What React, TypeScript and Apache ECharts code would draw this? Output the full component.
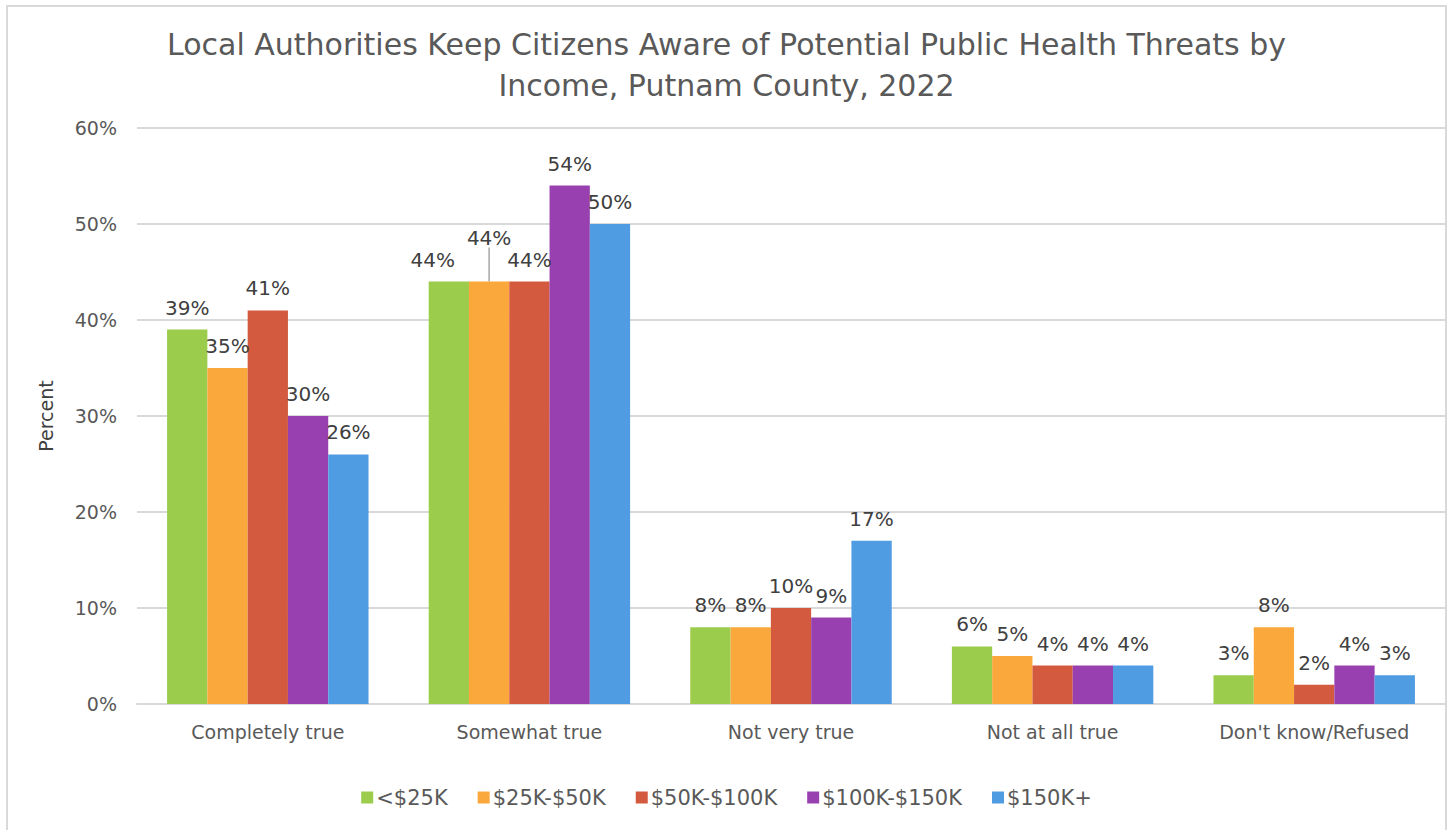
import React, { useEffect, useRef } from "react";
import * as echarts from "echarts";

const categories = ["Completely true", "Somewhat true", "Not very true", "Not at all true", "Don't know/Refused"];
const seriesNames = ["<$25K", "$25K-$50K", "$50K-$100K", "$100K-$150K", "$150K+"];
const under25k = [39, 44, 8, 6, 3];
const k25to50 = [35, 44, 8, 5, 8];
const k50to100 = [41, 44, 10, 4, 2];
const k100to150 = [30, 54, 9, 4, 4];
const k150plus = [26, 50, 17, 4, 3];
const yTicks = [0, 10, 20, 30, 40, 50, 60];
const colors = ["#9BCC4B", "#FAA83B", "#D35A3E", "#9940B0", "#4F9CE3"];

const FONT = "DejaVu Sans";

export default function App() {
  const ref = useRef<HTMLDivElement>(null);
  useEffect(() => {
    if (!ref.current) return;
    const chart = echarts.init(ref.current, null, { renderer: "svg" });
    const values = [under25k, k25to50, k50to100, k100to150, k150plus];
    const layouts: Array<(p: any) => any> = [
      (p) => (p.dataIndex === 1 ? { dx: -16 } : {}),
      (p) => (p.dataIndex === 1 ? { dy: -22 } : {}),
      () => ({}),
      () => ({}),
      () => ({}),
    ];
    chart.setOption({
      animation: false,
      textStyle: { fontFamily: FONT },
      graphic: [
        {
          type: "rect",
          shape: { x: 7, y: 6, width: 1439, height: 840 },
          style: { fill: "none", stroke: "#d9d9d9", lineWidth: 2 },
          silent: true,
        },
      ],
      title: {
        text: "Local Authorities Keep Citizens Aware of Potential Public Health Threats by\nIncome, Putnam County, 2022",
        left: "center",
        top: 19,
        textStyle: {
          fontFamily: FONT,
          fontWeight: "normal",
          fontSize: 30,
          lineHeight: 41,
          color: "#595959",
        },
      },
      legend: {
        data: seriesNames,
        bottom: 17,
        left: "center",
        itemWidth: 12,
        itemHeight: 12,
        itemGap: 30,
        icon: "rect",
        textStyle: { fontFamily: FONT, fontSize: 21, color: "#595959", padding: [0, 0, 0, -2] },
      },
      grid: { left: 137, right: 8, top: 128, bottom: 126 },
      xAxis: {
        type: "category",
        data: categories,
        axisLine: { lineStyle: { color: "#d9d9d9", width: 2 } },
        axisTick: { show: false },
        axisLabel: { fontFamily: FONT, fontSize: 19, color: "#595959", margin: 18 },
      },
      yAxis: {
        type: "value",
        min: yTicks[0],
        max: yTicks[yTicks.length - 1],
        interval: 10,
        name: "Percent",
        nameLocation: "middle",
        nameGap: 82,
        nameTextStyle: { fontFamily: FONT, fontSize: 19, color: "#404040" },
        axisLine: { show: false },
        axisTick: { show: false },
        splitLine: { lineStyle: { color: "#d9d9d9", width: 2 } },
        axisLabel: { fontFamily: FONT, fontSize: 19, color: "#595959", margin: 20, formatter: "{value}%" },
      },
      series: seriesNames.map((name, i) => ({
        name,
        type: "bar",
        data: values[i].map((v, j) =>
          i === 1 && j === 1
            ? { value: v, labelLine: { show: true, lineStyle: { color: "#a6a6a6", width: 1.5 } } }
            : v
        ),
        barGap: "0%",
        barCategoryGap: "23%",
        itemStyle: { color: colors[i] },
        label: {
          show: true,
          position: "top",
          distance: 12,
          formatter: "{c}%",
          fontFamily: FONT,
          fontSize: 20,
          color: "#404040",
        },
        labelLayout: layouts[i],
        labelLine: { show: false },
      })),
    });
    return () => chart.dispose();
  }, []);
  return (
    <div
      ref={ref}
      style={{ position: "absolute", left: 0, top: 0, width: 1453, height: 830, background: "#fff" }}
    />
  );
}
